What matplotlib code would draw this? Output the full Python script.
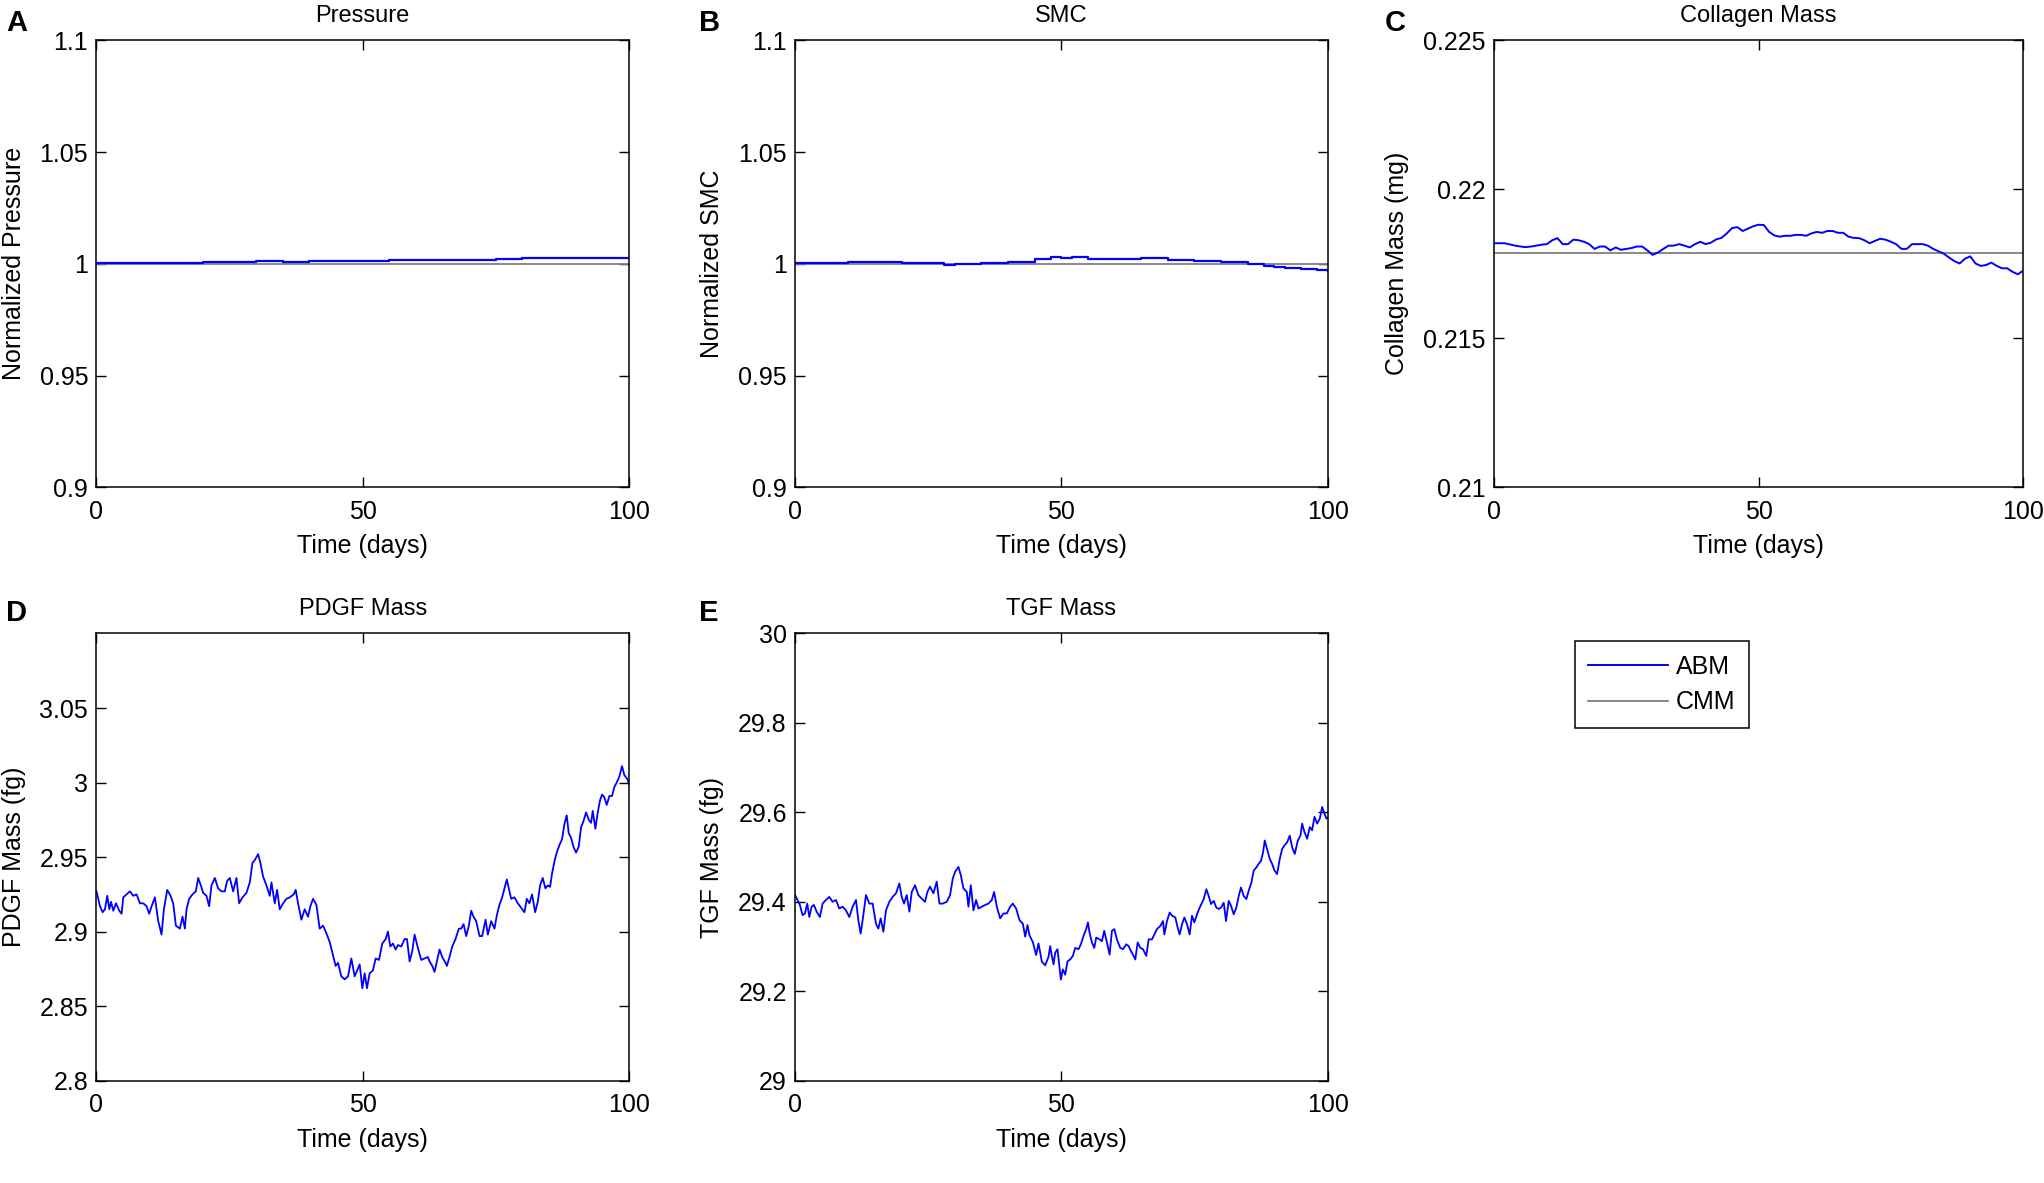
import numpy as np
import matplotlib
matplotlib.use("Agg")
import matplotlib.pyplot as plt

plt.rcParams['font.family'] = ['Liberation Sans', 'DejaVu Sans']

#---------------------------------- data ----------------------------------#
days = list(range(0, 101))

# A : pressure (ABM read every 5 days, CMM flat)
days_a = [0, 5, 10, 15, 20, 25, 30, 35, 40, 45, 50, 55, 60, 65, 70, 75, 80, 85, 90, 95, 100]
pressure_abm = [1.0004, 1.0005, 1.0005, 1.0005, 1.0006, 1.0007, 1.0012, 1.0010, 1.0013, 1.0013,
                1.0012, 1.0017, 1.0017, 1.0018, 1.0018, 1.0023, 1.0024, 1.0024, 1.0025, 1.0026, 1.0026]
pressure_cmm = 1.0

# B : SMC
days_b = [0, 5, 10, 15, 20, 25, 28, 30, 35, 40, 45, 48, 50, 52, 55, 60, 65, 70, 75, 80,
          85, 88, 90, 92, 95, 98, 100]
smc_abm = [1.0005, 1.0005, 1.0007, 1.0008, 1.0005, 1.0003, 0.9995, 0.9997, 1.0005, 1.0006,
           1.0020, 1.0030, 1.0028, 1.0030, 1.0022, 1.0022, 1.0027, 1.0018, 1.0012, 1.0008,
           1.0000, 0.9988, 0.9985, 0.9982, 0.9976, 0.9972, 0.9968]
smc_cmm = 1.0

# C : collagen mass (mg), one reading per day
collagen_abm = [0.21819, 0.21819, 0.21819, 0.21815, 0.21811, 0.21808, 0.21806, 0.21808, 0.21811, 0.21814,
                0.21816, 0.21829, 0.21836, 0.21816, 0.21816, 0.21831, 0.21829, 0.21824, 0.21816, 0.21800,
                0.21808, 0.21808, 0.21795, 0.21805, 0.21797, 0.21800, 0.21803, 0.21808, 0.21808, 0.21795,
                0.21780, 0.21788, 0.21800, 0.21811, 0.21811, 0.21816, 0.21811, 0.21805, 0.21816, 0.21824,
                0.21816, 0.21821, 0.21832, 0.21837, 0.21852, 0.21870, 0.21873, 0.21860, 0.21868, 0.21876,
                0.21881, 0.21880, 0.21857, 0.21845, 0.21841, 0.21844, 0.21844, 0.21847, 0.21847, 0.21844,
                0.21852, 0.21857, 0.21854, 0.21860, 0.21860, 0.21854, 0.21854, 0.21841, 0.21837, 0.21836,
                0.21829, 0.21819, 0.21827, 0.21834, 0.21831, 0.21824, 0.21816, 0.21800, 0.21800, 0.21816,
                0.21816, 0.21816, 0.21811, 0.21800, 0.21792, 0.21784, 0.21771, 0.21759, 0.21751, 0.21767,
                0.21775, 0.21751, 0.21743, 0.21746, 0.21754, 0.21743, 0.21735, 0.21735, 0.21723, 0.21715,
                0.21727]
collagen_cmm = 0.21787

# D : PDGF mass (fg), read about every half day
pdgf_days = [0.0, 0.66, 1.16, 1.59, 2.03, 2.41, 2.72, 3.16, 3.66, 4.28,
             4.72, 5.03, 5.66, 6.28, 6.91, 7.53, 8.16, 8.78, 9.41, 9.91,
             10.35, 10.97, 11.60, 12.22, 12.66, 13.29, 13.91, 14.41, 14.91, 15.66,
             16.16, 16.60, 16.91, 17.41, 18.04, 18.66, 19.10, 19.60, 20.04, 20.66,
             21.16, 21.60, 22.23, 22.85, 23.48, 24.10, 24.54, 25.04, 25.67, 26.29,
             26.79, 27.42, 28.17, 28.79, 29.29, 29.73, 30.36, 30.79, 31.29, 31.92,
             32.54, 32.86, 33.48, 33.92, 34.42, 35.05, 35.67, 36.30, 37.05, 37.42,
             37.86, 38.48, 39.11, 39.73, 40.17, 40.67, 41.30, 41.92, 42.55, 43.17,
             43.80, 44.42, 44.92, 45.36, 45.99, 46.61, 47.24, 47.86, 48.49,
             49.43, 49.93, 50.37, 50.80, 51.30, 51.93, 52.43, 53.05, 53.68, 54.31,
             54.74, 55.18, 55.68, 56.18, 56.62, 57.24, 57.87, 58.31, 58.81, 59.31,
             59.74, 60.37, 60.99, 61.62, 62.24, 62.56, 63.06, 63.49, 63.93, 64.43,
             64.93, 65.56, 65.81, 66.31, 66.81, 67.43, 68.06, 68.50, 68.94, 69.44,
             69.94, 70.37, 70.81, 71.31, 71.94, 72.44, 73.07, 73.50, 74.13, 74.75,
             75.19, 75.69, 76.19, 76.63, 77.06, 77.44, 77.88, 78.50, 79.13, 79.75,
             80.38, 80.81, 81.31, 81.81, 82.38, 82.88, 83.31, 83.81, 84.31, 84.75,
             85.19, 85.56, 86.00, 86.44, 86.94, 87.44, 87.88, 88.32, 88.69, 89.13,
             89.57, 90.07, 90.57, 91.01, 91.45, 91.95, 92.45, 92.89, 93.20, 93.70,
             94.14, 94.57, 94.95, 95.39, 95.83, 96.33, 96.83, 97.26, 97.70, 98.20,
             98.70, 99.14, 99.76, 100.0]
pdgf_abm = [2.927, 2.917, 2.913, 2.915, 2.924, 2.915, 2.920, 2.914, 2.919, 2.914,
            2.912, 2.923, 2.925, 2.927, 2.924, 2.925, 2.919, 2.919, 2.917, 2.912,
            2.917, 2.923, 2.907, 2.898, 2.915, 2.928, 2.924, 2.919, 2.904, 2.902,
            2.910, 2.902, 2.915, 2.922, 2.925, 2.927, 2.936, 2.931, 2.926, 2.924,
            2.917, 2.931, 2.936, 2.929, 2.927, 2.927, 2.934, 2.936, 2.927, 2.936,
            2.919, 2.923, 2.926, 2.933, 2.946, 2.948, 2.952, 2.946, 2.937, 2.931,
            2.924, 2.933, 2.919, 2.928, 2.915, 2.919, 2.922, 2.923, 2.925, 2.928,
            2.919, 2.908, 2.915, 2.910, 2.917, 2.922, 2.918, 2.902, 2.904, 2.899,
            2.893, 2.884, 2.877, 2.879, 2.870, 2.868, 2.870, 2.882, 2.870,
            2.878, 2.862, 2.872, 2.862, 2.872, 2.874, 2.882, 2.881, 2.892, 2.895,
            2.900, 2.890, 2.892, 2.888, 2.891, 2.890, 2.895, 2.895, 2.880, 2.887,
            2.898, 2.889, 2.881, 2.882, 2.883, 2.880, 2.877, 2.873, 2.880, 2.888,
            2.883, 2.879, 2.877, 2.883, 2.890, 2.895, 2.902, 2.902, 2.905, 2.897,
            2.904, 2.914, 2.910, 2.907, 2.897, 2.897, 2.908, 2.898, 2.907, 2.902,
            2.911, 2.918, 2.923, 2.929, 2.935, 2.929, 2.922, 2.923, 2.919, 2.916,
            2.913, 2.922, 2.919, 2.925, 2.913, 2.920, 2.931, 2.936, 2.929, 2.931,
            2.930, 2.939, 2.947, 2.953, 2.958, 2.962, 2.972, 2.978, 2.966, 2.963,
            2.957, 2.953, 2.957, 2.970, 2.974, 2.980, 2.975, 2.973, 2.981, 2.969,
            2.980, 2.988, 2.992, 2.990, 2.985, 2.991, 2.991, 2.997, 3.000, 3.004,
            3.011, 3.005, 3.002, 2.999]

# E : TGF mass (fg), read about every half day
tgf_days = [0.0, 0.90, 1.40, 1.84, 2.28, 2.66, 3.10, 3.53, 4.04, 4.66,
            5.16, 5.79, 6.42, 7.04, 7.67, 8.30, 8.92, 9.55, 10.18, 10.80,
            11.43, 11.87, 12.31, 12.68, 13.31, 13.94, 14.56, 15.19, 15.63, 16.07,
            16.57, 17.07, 17.70, 18.32, 18.95, 19.58, 20.02, 20.45, 20.96, 21.46,
            21.90, 22.52, 23.15, 23.78, 24.40, 24.84, 25.34, 25.97, 26.60, 27.10,
            27.72, 28.48, 29.10, 29.61, 30.04, 30.67, 31.11, 31.61, 32.24, 32.55,
            32.99, 33.49, 33.99, 34.43, 35.06, 35.68, 36.31, 36.94, 37.37, 37.88,
            38.51, 39.13, 39.76, 40.39, 40.89, 41.51, 42.14, 42.77, 43.21, 43.64,
            44.02, 44.64, 45.27, 45.71, 46.34, 46.97, 47.59,
            47.90, 48.22, 48.53, 48.84, 49.28, 49.66, 49.91, 50.28, 50.72, 51.16,
            51.66, 52.16, 52.60, 53.23, 53.67, 54.17, 54.67, 54.99, 55.30, 55.74,
            56.18, 56.55, 57.18, 57.62, 58.05, 58.56, 59.06, 59.50, 59.94, 60.43,
            61.06, 61.56, 62.19, 62.63, 63.07, 63.57, 63.89, 64.33, 64.83, 65.33,
            65.95, 66.39, 67.02, 67.46, 67.96, 68.59, 69.09, 69.34, 69.84, 70.34,
            70.78, 71.41, 71.85, 72.22, 72.66, 73.10, 73.60, 74.10, 74.54, 74.98,
            75.48, 75.98, 76.42, 76.73, 77.24, 77.67, 78.11, 78.61, 79.11, 79.55,
            79.99, 80.49, 80.93, 81.43, 81.87, 82.37, 82.87, 83.31, 83.74, 84.25,
            84.75, 85.19, 85.69, 86.13, 86.63, 87.07, 87.51, 87.89, 88.20, 88.64,
            89.14, 89.58, 90.02, 90.52, 91.02, 91.46, 91.90, 92.40, 92.90, 93.34,
            93.84, 94.41, 94.91, 95.22, 95.66, 96.16, 96.66, 97.10, 97.54, 98.04,
            98.54, 98.98, 99.42, 99.79, 100.0]
tgf_abm = [29.415, 29.393, 29.370, 29.374, 29.396, 29.366, 29.389, 29.393, 29.378, 29.366,
           29.396, 29.404, 29.411, 29.400, 29.404, 29.385, 29.389, 29.381, 29.366, 29.389,
           29.404, 29.359, 29.329, 29.359, 29.415, 29.396, 29.396, 29.351, 29.340, 29.363,
           29.333, 29.381, 29.400, 29.411, 29.419, 29.441, 29.411, 29.396, 29.415, 29.378,
           29.422, 29.437, 29.415, 29.407, 29.400, 29.422, 29.434, 29.419, 29.445, 29.396,
           29.396, 29.400, 29.415, 29.452, 29.467, 29.478, 29.460, 29.430, 29.422, 29.389,
           29.437, 29.381, 29.404, 29.385, 29.389, 29.393, 29.396, 29.404, 29.422, 29.389,
           29.363, 29.374, 29.374, 29.389, 29.396, 29.385, 29.359, 29.351, 29.322, 29.348,
           29.325, 29.310, 29.281, 29.307, 29.266, 29.258, 29.277,
           29.301, 29.279, 29.260, 29.286, 29.294, 29.252, 29.226, 29.249, 29.237, 29.267,
           29.271, 29.279, 29.297, 29.294, 29.305, 29.324, 29.339, 29.354, 29.331, 29.309,
           29.297, 29.320, 29.316, 29.312, 29.335, 29.309, 29.282, 29.335, 29.339, 29.316,
           29.297, 29.294, 29.305, 29.301, 29.290, 29.279, 29.271, 29.309, 29.297, 29.294,
           29.279, 29.316, 29.316, 29.327, 29.339, 29.346, 29.357, 29.327, 29.357, 29.376,
           29.369, 29.365, 29.342, 29.327, 29.350, 29.365, 29.350, 29.327, 29.369, 29.354,
           29.372, 29.387, 29.398, 29.406, 29.428, 29.413, 29.395, 29.402, 29.387, 29.384,
           29.387, 29.398, 29.357, 29.402, 29.391, 29.372, 29.387, 29.413, 29.432, 29.413,
           29.406, 29.425, 29.443, 29.470, 29.477, 29.485, 29.492, 29.511, 29.537, 29.518,
           29.496, 29.485, 29.470, 29.462, 29.496, 29.518, 29.526, 29.533, 29.548, 29.522,
           29.507, 29.537, 29.548, 29.575, 29.556, 29.541, 29.567, 29.560, 29.590, 29.575,
           29.586, 29.612, 29.597, 29.586, 29.588]

xticks = [0, 50, 100]
yticks_norm = [0.9, 0.95, 1.0, 1.05, 1.1]
yticklabels_norm = ['0.9', '0.95', '1', '1.05', '1.1']
yticks_coll = [0.21, 0.215, 0.22, 0.225]
yticklabels_coll = ['0.21', '0.215', '0.22', '0.225']
yticks_pdgf = [2.8, 2.85, 2.9, 2.95, 3.0, 3.05]
yticklabels_pdgf = ['2.8', '2.85', '2.9', '2.95', '3', '3.05']
yticks_tgf = [29.0, 29.2, 29.4, 29.6, 29.8, 30.0]
yticklabels_tgf = ['29', '29.2', '29.4', '29.6', '29.8', '30']

ABM_COLOR = '#0000ff'
CMM_COLOR = '#808080'
FS = 18

#---------------------------------- figure ----------------------------------#
fig = plt.figure(figsize=(20.44, 11.83), dpi=100)

w, h = 0.2605, 0.378
top_b, bot_b = 0.588, 0.0865
ax_a = fig.add_axes([0.0472, top_b, w, h])
ax_b = fig.add_axes([0.3890, top_b, w, h])
ax_c = fig.add_axes([0.7309, top_b, 0.2589, h])
ax_d = fig.add_axes([0.0472, bot_b, w, h])
ax_e = fig.add_axes([0.3890, bot_b, w, h])


def style(ax, title, ylabel, ylim, yticks, yticklabels):
    ax.set_xlim(0, 100)
    ax.set_ylim(*ylim)
    ax.set_xticks(xticks)
    ax.set_xticklabels([str(t) for t in xticks])
    ax.set_yticks(yticks)
    ax.set_yticklabels(yticklabels)
    ax.tick_params(direction='in', length=7, width=1.0, top=True, right=True,
                   labelsize=FS, colors='black')
    ax.tick_params(axis='x', pad=9)
    ax.tick_params(axis='y', pad=6)
    for sp in ax.spines.values():
        sp.set_linewidth(1.1)
        sp.set_color('black')
    ax.set_title(title, fontsize=FS - 1, pad=13)
    ax.set_xlabel('Time (days)', fontsize=FS, labelpad=7.5)
    ax.set_ylabel(ylabel, fontsize=FS, labelpad=10)


ax_a.plot([0, 100], [pressure_cmm, pressure_cmm], color=CMM_COLOR, lw=1.3)
ax_a.plot(days_a, pressure_abm, color=ABM_COLOR, lw=1.6, drawstyle='steps-post')
style(ax_a, 'Pressure', 'Normalized Pressure', (0.9, 1.1), yticks_norm, yticklabels_norm)

ax_b.plot([0, 100], [smc_cmm, smc_cmm], color=CMM_COLOR, lw=1.3)
ax_b.plot(days_b, smc_abm, color=ABM_COLOR, lw=1.6, drawstyle='steps-post')
style(ax_b, 'SMC', 'Normalized SMC', (0.9, 1.1), yticks_norm, yticklabels_norm)

l_cmm, = ax_c.plot([0, 100], [collagen_cmm, collagen_cmm], color=CMM_COLOR, lw=1.3)
l_abm, = ax_c.plot(days, collagen_abm, color=ABM_COLOR, lw=1.4)
style(ax_c, 'Collagen Mass', 'Collagen Mass (mg)', (0.21, 0.225), yticks_coll, yticklabels_coll)

ax_d.plot(pdgf_days, pdgf_abm, color=ABM_COLOR, lw=1.3)
style(ax_d, 'PDGF Mass', 'PDGF Mass (fg)', (2.8, 3.1), yticks_pdgf, yticklabels_pdgf)

ax_e.plot(tgf_days, tgf_abm, color=ABM_COLOR, lw=1.3)
style(ax_e, 'TGF Mass', 'TGF Mass (fg)', (29.0, 30.0), yticks_tgf, yticklabels_tgf)

# panel letters
for letter, x, y in [('A', 0.003, 0.9807), ('B', 0.3418, 0.9807), ('C', 0.6773, 0.9807),
                     ('D', 0.003, 0.4815), ('E', 0.3418, 0.4815)]:
    fig.text(x, y, letter, fontsize=21, fontweight='bold', ha='left', va='center')

# legend on its own in the empty slot
leg = fig.legend([l_abm, l_cmm], ['ABM', 'CMM'], loc='upper left',
                 bbox_to_anchor=(0.7704, 0.4579), borderaxespad=0, fontsize=FS,
                 handlelength=3.2, handletextpad=0.3, borderpad=0.55, labelspacing=0.45,
                 fancybox=False, framealpha=1, edgecolor='black')
leg.get_frame().set_linewidth(1.1)

fig.savefig('out.png', dpi=100)
